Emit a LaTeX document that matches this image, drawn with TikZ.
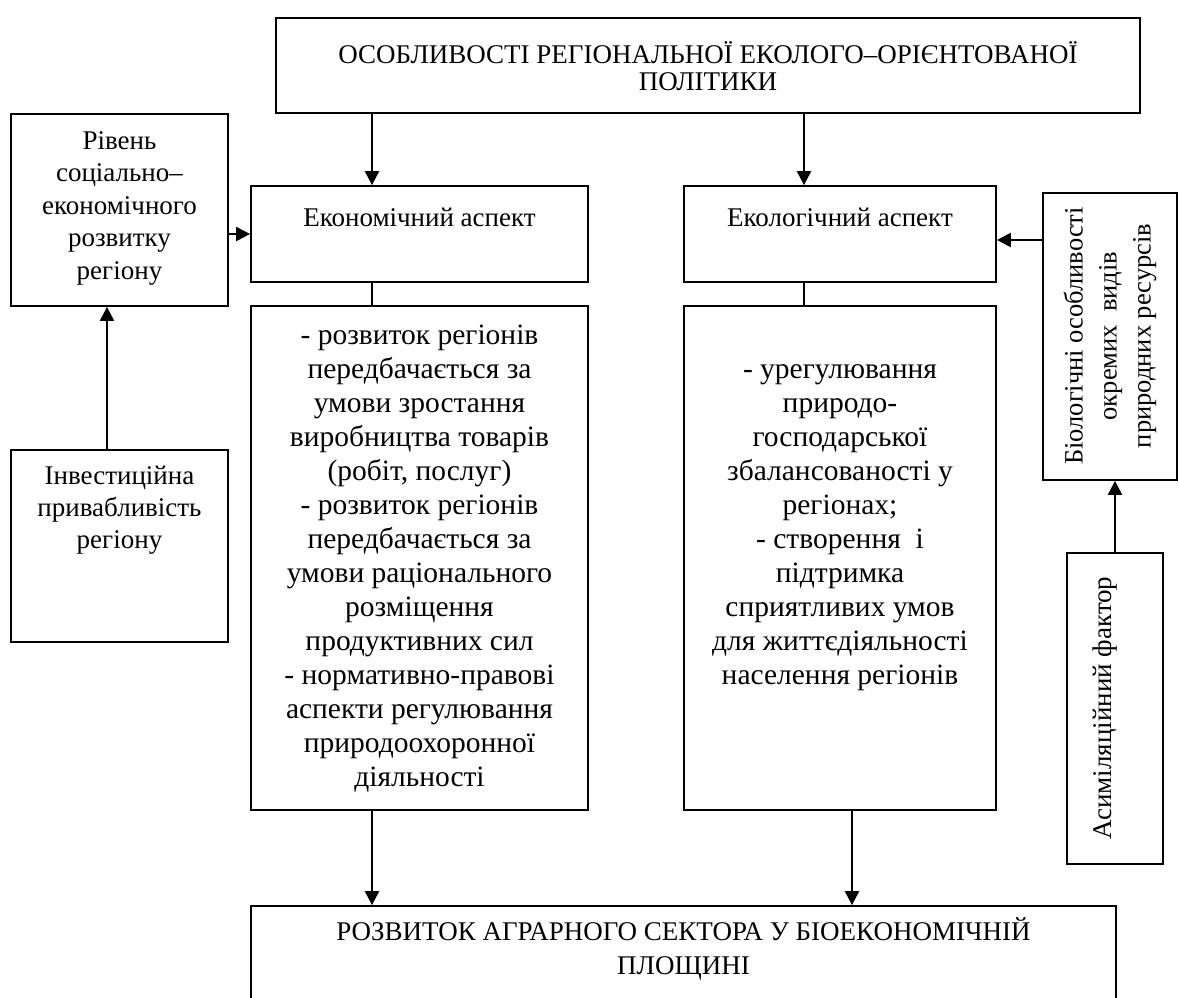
\documentclass[tikz,border=0pt]{standalone}
\usepackage{fontspec}
\setmainfont{Liberation Serif}
\usetikzlibrary{arrows.meta}
\tikzset{
  box/.style={draw, line width=1.8pt, rectangle, inner sep=0pt},
  txt/.style={align=center, inner sep=0pt, font=\fontsize{29.5}{34}\selectfont},
  arr/.style={line width=2.2pt, -{Triangle[length=14pt,width=14pt]}},
  thin/.style={line width=1.1pt}
}
\begin{document}
\begin{tikzpicture}[x=1pt,y=-1pt]
\useasboundingbox (0,0) rectangle (1179,998);
\clip (0,0) rectangle (1179,998);
% boxes
\node[box, minimum width=864pt, minimum height=95pt] (top) at (708,65.5) {};
\node[box, minimum width=217pt, minimum height=192pt] (rivn) at (119.5,210) {};
\node[box, minimum width=217pt, minimum height=192pt] (inv) at (119.5,546) {};
\node[box, minimum width=337pt, minimum height=96pt] (econ) at (419.5,234) {};
\node[box, minimum width=312pt, minimum height=96pt] (eco) at (840,234) {};
\node[box, minimum width=337pt, minimum height=504pt] (econc) at (419.5,558) {};
\node[box, minimum width=312pt, minimum height=504pt] (ecoc) at (840,558) {};
\node[box, minimum width=134pt, minimum height=287pt] (bio) at (1110,336.5) {};
\node[box, minimum width=96pt, minimum height=311pt] (asim) at (1115,708.5) {};
\node[box, minimum width=865pt, minimum height=124pt] (bot) at (683.5,968) {};
% texts
\node[txt, font=\fontsize{27}{27}\selectfont] (ttop) at (708,66) {ОСОБЛИВОСТІ РЕГІОНАЛЬНОЇ ЕКОЛОГО–ОРІЄНТОВАНОЇ\\ПОЛІТИКИ};
\node[txt, font=\fontsize{27}{32.5}\selectfont] (trivn) at (119.5,208) {Рівень\\соціально–\\економічного\\розвитку\\регіону};
\node[txt, font=\fontsize{27}{32}\selectfont] (tinv) at (119.5,510) {Інвестиційна\\привабливість\\регіону};
\node[txt, font=\fontsize{27}{34}\selectfont] (tecon) at (419.5,217) {Економічний аспект};
\node[txt, font=\fontsize{27}{34}\selectfont] (teco) at (840,217) {Екологічний аспект};
\node[txt] (teconc) at (419.5,559) {- розвиток регіонів\\передбачається за\\умови зростання\\виробництва товарів\\(робіт, послуг)\\- розвиток регіонів\\передбачається за\\умови раціонального\\розміщення\\продуктивних сил\\- нормативно-правові\\аспекти регулювання\\природоохоронної\\діяльності};
\node[txt] (tecoc) at (840,528) {- урегулювання\\природо-\\господарської\\збалансованості у\\регіонах;\\- створення~~і\\підтримка\\сприятливих умов\\для життєдіяльності\\населення регіонів};
\node[txt, rotate=90, font=\fontsize{26.5}{34}\selectfont] (tbio) at (1110,336) {Біологічні особливості\\окремих~~видів\\природних ресурсів};
\node[txt, rotate=90, font=\fontsize{27}{34}\selectfont] (tasim) at (1105,708) {Асиміляційний фактор};
\node[txt, font=\fontsize{27}{34}\selectfont] (tbot) at (683.5,949) {РОЗВИТОК АГРАРНОГО СЕКТОРА У БІОЕКОНОМІЧНІЙ\\ПЛОЩИНІ};
% helper coordinates
\coordinate (cx1) at (372,0);
\coordinate (cx2) at (804,0);
\coordinate (cx3) at (852,0);
\coordinate (cx4) at (107,0);
\coordinate (cy1) at (0,234);
\coordinate (cy2) at (0,240);
% connectors
\draw[arr] (top.south -| cx1) -- (econ.north -| cx1);
\draw[arr] (top.south -| cx2) -- (eco.north -| cx2);
\draw[thin] (econ.south -| cx1) -- (econc.north -| cx1);
\draw[thin] (eco.south -| cx2) -- (ecoc.north -| cx2);
\draw[arr] (econc.south -| cx1) -- (bot.north -| cx1);
\draw[arr] (ecoc.south -| cx3) -- (bot.north -| cx3);
\draw[arr] (rivn.east |- cy1) -- (econ.west |- cy1);
\draw[arr] (inv.north -| cx4) -- (rivn.south -| cx4);
\draw[arr] (bio.west |- cy2) -- (eco.east |- cy2);
\draw[arr] (asim.north) -- (bio.south -| asim.north);
\end{tikzpicture}
\end{document}
